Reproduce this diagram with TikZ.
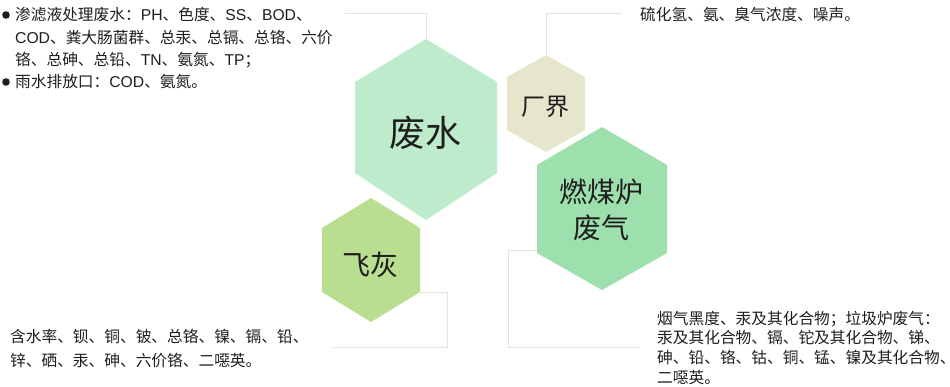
\documentclass[tikz,border=0pt]{standalone}
\usepackage{fontspec}
\setmainfont{Noto Sans CJK SC}
\newfontfamily\latf{Liberation Sans}
\newcommand\LT[1]{{\latf #1}}
\definecolor{waterc}{HTML}{BDEBCB}
\definecolor{bordc}{HTML}{E6E6CC}
\definecolor{coalc}{HTML}{9DE0AD}
\definecolor{ashc}{HTML}{BADE90}
\definecolor{linec}{HTML}{E3E3D6}
\definecolor{textc}{HTML}{1E1E1E}
\begin{document}
\begin{tikzpicture}[x=1pt,y=-1pt,
  hexlabel/.style={inner sep=0pt,text=textc,align=center},
  desc/.style={inner sep=0pt,text=textc,anchor=base west,align=left},
  conn/.style={draw=linec,line width=0.8pt},
  bulletdot/.style={fill=textc}]
\useasboundingbox (0,0) rectangle (950,387);
% hexagons
\fill[waterc] (426,39) -- (497,82) -- (497,173) -- (426,220) -- (355,173) -- (355,82) -- cycle;
\fill[bordc] (546,55) -- (585,77) -- (585,130) -- (546,152) -- (507,130) -- (507,77) -- cycle;
\fill[coalc] (602,127) -- (667,165) -- (667,253) -- (602,290) -- (537,253) -- (537,165) -- cycle;
\fill[ashc] (371,198) -- (420,228) -- (420,292) -- (371,322) -- (322,292) -- (322,228) -- cycle;
% anchor points on hexagons
\coordinate (water-top) at (426,39);
\coordinate (border-top) at (546,55);
\coordinate (coal-left) at (537,250);
\coordinate (ash-right) at (420,292);
% labels
\node[hexlabel,font=\fontsize{36}{40}\selectfont] (water) at (425,133) {废水};
\node[hexlabel,font=\fontsize{24}{28}\selectfont] (border) at (545,107) {厂界};
\node[hexlabel,font=\fontsize{28}{36}\selectfont] (coal) at (601,210) {燃煤炉\\废气};
\node[hexlabel,font=\fontsize{28}{32}\selectfont] (ash) at (370,265) {飞灰};
% connector corners and ends
\coordinate (water-c) at (426,13);
\coordinate (water-e) at (345,13);
\coordinate (border-c) at (546,13);
\coordinate (border-e) at (622,13);
\coordinate (ash-c1) at (447,292);
\coordinate (ash-c2) at (447,347);
\coordinate (ash-e) at (333,347);
\coordinate (coal-c1) at (508,250);
\coordinate (coal-c2) at (508,347);
\coordinate (coal-e) at (640,347);
\draw[conn] (water-top) -- (water-c) -- (water-e);
\draw[conn] (border-top) -- (border-c) -- (border-e);
\draw[conn] (ash-right) -- (ash-c1) -- (ash-c2) -- (ash-e);
\draw[conn] (coal-left) -- (coal-c1) -- (coal-c2) -- (coal-e);
% description texts (anchored at the baseline of their last line)
\node[desc,font=\fontsize{15.7}{22.3}\selectfont] (water-text) at (15,87.9)
  {渗滤液处理废水：\LT{PH}、色度、\LT{SS}、\LT{BOD}、\\
   \LT{COD}、粪大肠菌群、总汞、总镉、总铬、六价\\
   铬、总砷、总铅、\LT{TN}、氨氮、\LT{TP}；\\
   雨水排放口：\LT{COD}、氨氮。};
\coordinate (bul1) at (6,15);
\coordinate (bul2) at (6,82);
\fill[bulletdot] (bul1) circle (3.8);
\fill[bulletdot] (bul2) circle (3.8);
\node[desc,font=\fontsize{15.7}{20}\selectfont] (border-text) at (640,21)
  {硫化氢、氨、臭气浓度、噪声。};
\node[desc,font=\fontsize{15.7}{24}\selectfont] (ash-text) at (10,366)
  {含水率、钡、铜、铍、总铬、镍、镉、铅、\\
   锌、硒、汞、砷、六价铬、二噁英。};
\node[desc,font=\fontsize{15.7}{19.7}\selectfont] (coal-text) at (657,383.1)
  {烟气黑度、汞及其化合物；垃圾炉废气：\\
   汞及其化合物、镉、铊及其化合物、锑、\\
   砷、铅、铬、钴、铜、锰、镍及其化合物、\\
   二噁英。};
\end{tikzpicture}
\end{document}
